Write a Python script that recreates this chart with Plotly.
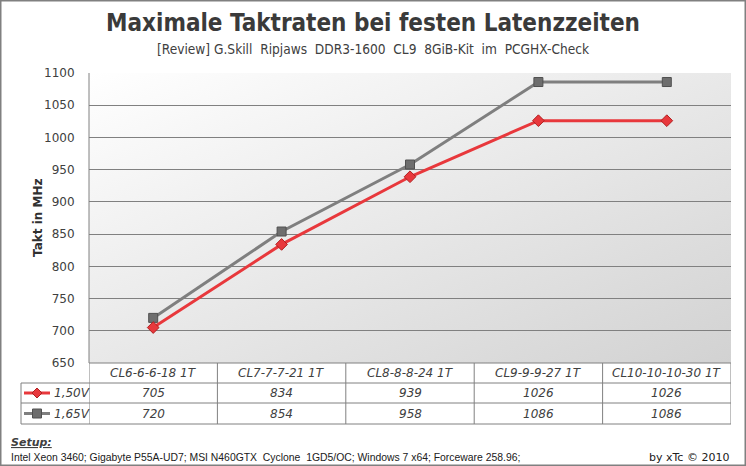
import plotly.graph_objects as go
import base64

categories = ["CL6-6-6-18 1T", "CL7-7-7-21 1T", "CL8-8-8-24 1T", "CL9-9-9-27 1T", "CL10-10-10-30 1T"]
series_names = ["1,50V", "1,65V"]
values_150 = [705, 834, 939, 1026, 1026]
values_165 = [720, 854, 958, 1086, 1086]
y_ticks = [650, 700, 750, 800, 850, 900, 950, 1000, 1050, 1100]

title = "Maximale Taktraten bei festen Latenzzeiten"
subtitle = "[Review] G.Skill  Ripjaws  DDR3-1600  CL9  8GiB-Kit  im  PCGHX-Check"
setup_label = "Setup:"
setup_text = "Intel Xeon 3460; Gigabyte P55A-UD7; MSI N460GTX  Cyclone  1GD5/OC; Windows 7 x64; Forceware 258.96;"
credit = "by xTc © 2010"

W, H = 746, 466
L, R, T, B = 89, 731, 73, 363
PW, PH = R - L, B - T
TXT = "#404040"
GRID = "#808080"
RED = "#e8383c"
GREY = "#7f7f7f"

def px(x):
    return (x - L) / PW

def py(y):
    return (B - y) / PH

svg = ('<svg xmlns="http://www.w3.org/2000/svg" width="642" height="290" preserveAspectRatio="none">'
       '<defs><linearGradient id="g" x1="0" y1="0" x2="1" y2="1">'
       '<stop offset="0" stop-color="#ffffff"/><stop offset="1" stop-color="#d2d2d2"/>'
       '</linearGradient></defs><rect width="642" height="290" fill="url(#g)"/></svg>')
svg_uri = "data:image/svg+xml;base64," + base64.b64encode(svg.encode()).decode()

fig = go.Figure()
fig.add_trace(go.Scatter(x=categories, y=values_165, mode="lines+markers", name=series_names[1],
                         line=dict(color=GREY, width=3),
                         marker=dict(symbol="square", size=9, color="#6e6e6e", line=dict(color="#505050", width=1))))
fig.add_trace(go.Scatter(x=categories, y=values_150, mode="lines+markers", name=series_names[0],
                         line=dict(color=RED, width=3),
                         marker=dict(symbol="diamond", size=9, color=RED, line=dict(color="#b02020", width=1))))

shapes = []
line_style = dict(color=GRID, width=1)
# outer border
shapes.append(dict(type="rect", xref="paper", yref="paper", x0=px(0.5), x1=px(W - 0.5), y0=py(0.5), y1=py(H - 0.5),
                   line=dict(color="#808080", width=2), layer="below"))
# table horizontal lines
rows_y = [B, 383, 403, 424]
for i, yy in enumerate(rows_y):
    x0 = L if i == 0 else 21
    shapes.append(dict(type="line", xref="paper", yref="paper", x0=px(x0), x1=px(R), y0=py(yy), y1=py(yy), line=line_style))
# table vertical lines
for k in range(len(categories) + 1):
    shapes.append(dict(type="line", xref="x", yref="paper", x0=k - 0.5, x1=k - 0.5, y0=py(B), y1=py(424), line=line_style))
shapes.append(dict(type="line", xref="paper", yref="paper", x0=px(21), x1=px(21), y0=py(383), y1=py(424), line=line_style))
# left axis line
shapes.append(dict(type="line", xref="paper", yref="paper", x0=0, x1=0, y0=0, y1=1, line=line_style))

annotations = []
# legend keys in table
key_rows = [(393, RED, "diamond", series_names[0]), (413.5, GREY, "square", series_names[1])]
for yc, col, sym, name in key_rows:
    shapes.append(dict(type="line", xref="paper", yref="paper", x0=px(24), x1=px(50), y0=py(yc), y1=py(yc),
                       line=dict(color=col, width=3)))
    cx = 37
    if sym == "diamond":
        path = "M {} {} L {} {} L {} {} L {} {} Z".format(px(cx - 5), py(yc), px(cx), py(yc - 5), px(cx + 5), py(yc), px(cx), py(yc + 5))
        shapes.append(dict(type="path", xref="paper", yref="paper", path=path, fillcolor=col,
                           line=dict(color="#b02020", width=1)))
    else:
        shapes.append(dict(type="rect", xref="paper", yref="paper", x0=px(cx - 4.5), x1=px(cx + 4.5),
                           y0=py(yc - 4.5), y1=py(yc + 4.5), fillcolor="#6e6e6e", line=dict(color="#505050", width=1)))
    annotations.append(dict(xref="paper", yref="paper", x=px(52), y=py(yc), xanchor="left", yanchor="middle",
                            text="<i>" + name + "</i>", showarrow=False, font=dict(family="DejaVu Sans", size=12, color=TXT)))

# header and values
for i, cat in enumerate(categories):
    annotations.append(dict(xref="x", yref="paper", x=i, y=py(373), yanchor="middle", text="<i>" + cat + "</i>",
                            showarrow=False, font=dict(family="DejaVu Sans", size=12, color=TXT)))
    annotations.append(dict(xref="x", yref="paper", x=i, y=py(393), yanchor="middle", text="<i>" + str(values_150[i]) + "</i>",
                            showarrow=False, font=dict(family="DejaVu Sans", size=12, color=TXT)))
    annotations.append(dict(xref="x", yref="paper", x=i, y=py(413.5), yanchor="middle", text="<i>" + str(values_165[i]) + "</i>",
                            showarrow=False, font=dict(family="DejaVu Sans", size=12, color=TXT)))

# titles
annotations.append(dict(xref="paper", yref="paper", x=px(373), y=py(23), xanchor="center", yanchor="middle",
                        text="<b>" + title + "</b>", showarrow=False,
                        font=dict(family="DejaVu Sans Condensed", size=24, color="#3a3a3a")))
annotations.append(dict(xref="paper", yref="paper", x=px(373), y=py(49), xanchor="center", yanchor="middle",
                        text=subtitle, showarrow=False,
                        font=dict(family="DejaVu Sans Condensed", size=13.6, color=TXT)))
# footer
annotations.append(dict(xref="paper", yref="paper", x=px(9), y=py(442), xanchor="left", yanchor="middle",
                        text="<b><i><u>" + setup_label + "</u></i></b>", showarrow=False,
                        font=dict(family="DejaVu Sans", size=11, color=TXT)))
annotations.append(dict(xref="paper", yref="paper", x=px(9), y=py(457), xanchor="left", yanchor="middle",
                        text=setup_text, showarrow=False,
                        font=dict(family="Liberation Sans", size=10.4, color="#202020")))
annotations.append(dict(xref="paper", yref="paper", x=px(731), y=py(457), xanchor="right", yanchor="middle",
                        text=credit, showarrow=False,
                        font=dict(family="DejaVu Sans", size=11, color="#202020")))
# y axis title
annotations.append(dict(xref="paper", yref="paper", x=px(38), y=0.5, xanchor="center", yanchor="middle",
                        text="<b>Takt in MHz</b>", textangle=-90, showarrow=False,
                        font=dict(family="DejaVu Sans", size=12, color="#303030")))

fig.update_layout(
    width=W, height=H,
    margin=dict(l=L, r=W - R, t=T, b=H - B, pad=0),
    paper_bgcolor="white",
    plot_bgcolor="rgba(0,0,0,0)",
    showlegend=False,
    shapes=shapes,
    annotations=annotations,
    images=[dict(source=svg_uri, xref="paper", yref="paper", x=0, y=1, sizex=1, sizey=1,
                 xanchor="left", yanchor="top", sizing="stretch", layer="below")],
    xaxis=dict(type="category", range=[-0.5, len(categories) - 0.5], showticklabels=False, showgrid=False,
               zeroline=False, showline=False, fixedrange=True),
    yaxis=dict(range=[650, 1100], tickvals=y_ticks, showgrid=True, gridcolor=GRID, gridwidth=1,
               zeroline=False, showline=False, ticks="outside", ticklen=11, tickcolor="rgba(0,0,0,0)",
               tickfont=dict(family="DejaVu Sans", size=12, color=TXT)),
)

fig.write_html("out.html")
